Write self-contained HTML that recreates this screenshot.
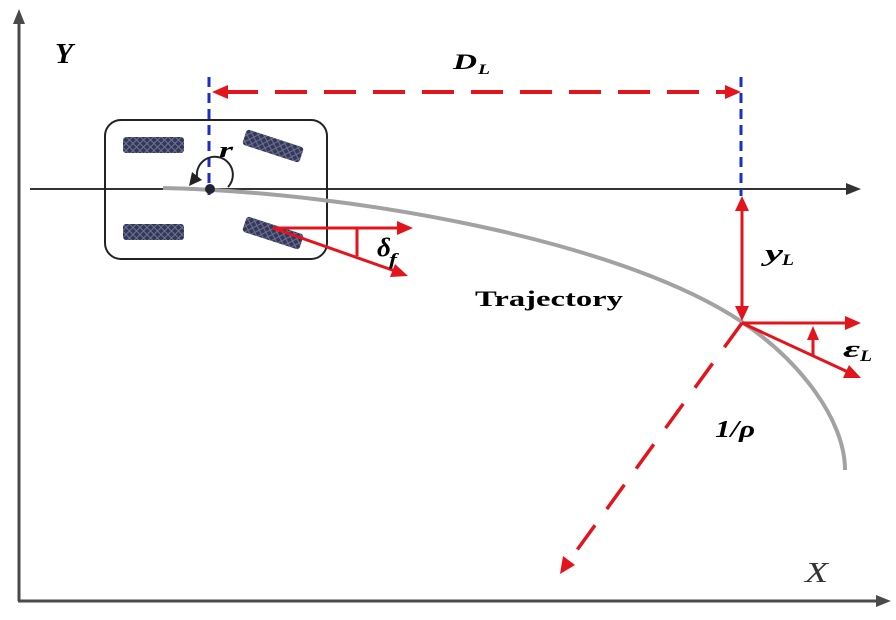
<!DOCTYPE html>
<html><head><meta charset="utf-8"><style>
html,body{margin:0;padding:0;background:#fff;}
svg{display:block;}
text{font-family:"Liberation Serif",serif;}
</style></head><body>
<svg width="896" height="620" viewBox="0 0 896 620" xmlns="http://www.w3.org/2000/svg">
<defs>
<pattern id="hatch" width="7" height="7" patternUnits="userSpaceOnUse">
<rect width="7" height="7" fill="#33375a"/>
<path d="M0,3.5 L3.5,0 L7,3.5 L3.5,7 Z" fill="none" stroke="#6f7290" stroke-width="1"/>
</pattern>
</defs>
<rect width="896" height="620" fill="#fff"/>

<!-- axes -->
<line x1="19" y1="22" x2="19" y2="601" stroke="#4a4a4a" stroke-width="3"/>
<polygon points="19,9 13,24 25,24" fill="#4a4a4a"/>
<line x1="18" y1="601" x2="878" y2="601" stroke="#4a4a4a" stroke-width="3"/>
<polygon points="891,601 876,595 876,607" fill="#4a4a4a"/>

<!-- horizontal reference line -->
<line x1="30" y1="189" x2="848" y2="189" stroke="#333" stroke-width="2"/>
<polygon points="861,189 846,183 846,195" fill="#333"/>

<!-- car body -->
<rect x="105" y="120" width="222" height="139" rx="16" ry="16" fill="none" stroke="#222" stroke-width="2"/>
<!-- wheels -->
<rect x="123" y="137" width="61" height="16" rx="3" fill="url(#hatch)"/>
<rect x="123" y="224" width="61" height="16" rx="3" fill="url(#hatch)"/>
<rect x="243" y="138" width="60" height="16" rx="3" fill="url(#hatch)" transform="rotate(18 273 146)"/>
<rect x="243" y="225" width="60" height="16" rx="3" fill="url(#hatch)" transform="rotate(18 273 233)"/>

<!-- trajectory -->
<path d="M163,188 C350,192 620,240 742,322 C800,361 845,420 845,470" fill="none" stroke="#a2a2a2" stroke-width="4"/>

<!-- blue dashed lines -->
<line x1="209" y1="77" x2="209" y2="195" stroke="#1a2fc8" stroke-width="3" stroke-dasharray="10 6"/>
<line x1="741" y1="77" x2="741" y2="196" stroke="#1a2fc8" stroke-width="3" stroke-dasharray="10 6"/>

<!-- CG and yaw rate -->
<circle cx="210" cy="189" r="5" fill="#223" />
<path d="M228,187 A18,18 0 1 0 197,177" fill="none" stroke="#222" stroke-width="2"/>
<polygon points="189,186 192,172 202,180" fill="#222"/>
<text x="219" y="157" font-size="22" font-weight="bold" font-style="italic" textLength="14" lengthAdjust="spacingAndGlyphs">r</text>

<!-- D_L arrow -->
<line x1="226" y1="92" x2="728" y2="92" stroke="#e3141b" stroke-width="4" stroke-dasharray="32 17"/>
<polygon points="212,92 228,85 228,99" fill="#e3141b"/>
<polygon points="741,92 725,85 725,99" fill="#e3141b"/>
<text x="453" y="69" font-size="22" font-weight="bold" font-style="italic" textLength="24" lengthAdjust="spacingAndGlyphs">D</text>
<text x="478" y="74" font-size="15" font-weight="bold" font-style="italic" textLength="12" lengthAdjust="spacingAndGlyphs">L</text>
<text x="55" y="63" font-size="28" font-weight="bold" font-style="italic" textLength="18" lengthAdjust="spacingAndGlyphs">Y</text>

<!-- steering angle -->
<line x1="273" y1="228" x2="400" y2="228" stroke="#e3141b" stroke-width="3"/>
<polygon points="413,228 397,221 397,235" fill="#e3141b"/>
<line x1="273" y1="228" x2="395" y2="271" stroke="#e3141b" stroke-width="3"/>
<polygon points="408,276 395,264 390,277" fill="#e3141b"/>
<line x1="357" y1="229" x2="357" y2="256" stroke="#e3141b" stroke-width="3"/>
<text x="377" y="256" font-size="26" font-style="italic" font-weight="bold" textLength="14" lengthAdjust="spacingAndGlyphs">δ</text>
<text x="389" y="265" font-size="17" font-style="italic" font-weight="bold" textLength="8" lengthAdjust="spacingAndGlyphs">f</text>

<text x="475" y="306" font-size="22" font-weight="bold" textLength="148" lengthAdjust="spacingAndGlyphs">Trajectory</text>

<!-- y_L arrow -->
<line x1="742" y1="208" x2="742" y2="309" stroke="#e3141b" stroke-width="3"/>
<polygon points="742,196 735,211 749,211" fill="#e3141b"/>
<polygon points="742,321 735,306 749,306" fill="#e3141b"/>
<text x="765" y="261" font-size="24" font-weight="bold" font-style="italic" textLength="18" lengthAdjust="spacingAndGlyphs">y</text>
<text x="782" y="265" font-size="16" font-weight="bold" font-style="italic" textLength="12" lengthAdjust="spacingAndGlyphs">L</text>

<!-- heading error -->
<line x1="742" y1="323" x2="848" y2="323" stroke="#e3141b" stroke-width="3"/>
<polygon points="861,323 845,316 845,330" fill="#e3141b"/>
<line x1="742" y1="323" x2="848" y2="372" stroke="#e3141b" stroke-width="3"/>
<polygon points="861,378 849,365 843,378" fill="#e3141b"/>
<line x1="813" y1="356" x2="813" y2="338" stroke="#e3141b" stroke-width="3"/>
<polygon points="813,326 807,340 819,340" fill="#e3141b"/>
<text x="843" y="357" font-size="24" font-weight="bold" font-style="italic" textLength="17" lengthAdjust="spacingAndGlyphs">ε</text>
<text x="860" y="361" font-size="16" font-weight="bold" font-style="italic" textLength="12" lengthAdjust="spacingAndGlyphs">L</text>

<!-- radius dashed -->
<line x1="742" y1="323" x2="569" y2="561" stroke="#e3141b" stroke-width="3.5" stroke-dasharray="30 20"/>
<polygon points="560,574 563,556 575,565" fill="#e3141b"/>
<text x="715" y="437" font-size="24" font-weight="bold" font-style="italic" textLength="40" lengthAdjust="spacingAndGlyphs">1/ρ</text>

<text x="805" y="582" font-size="28" font-style="italic" fill="#333" textLength="23" lengthAdjust="spacingAndGlyphs">X</text>
</svg>
</body></html>
